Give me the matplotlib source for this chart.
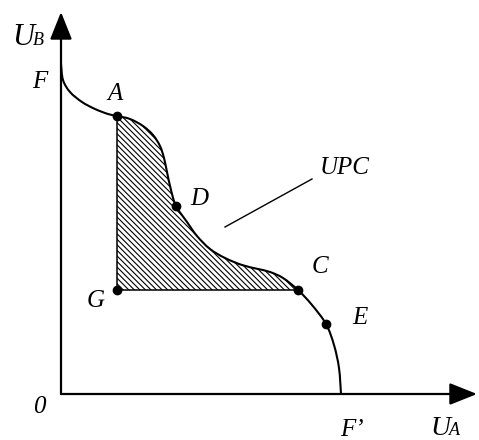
import matplotlib.pyplot as plt
from matplotlib.path import Path
from matplotlib.patches import PathPatch

# coordenadas en pixeles medidos desde el origen 0 (x a la derecha, y hacia arriba)
curve_x = [0, 2, 9, 21, 34, 47, 56,
           69, 82, 92, 99, 103, 106, 110, 115,
           126, 136, 149, 164, 181, 197, 209, 222, 237,
           251, 265, 273, 278, 280]
curve_y = [330, 314, 302, 292, 285, 280, 278,
           275, 268, 259, 248, 236, 222, 204, 188,
           172, 158, 145, 136, 129, 125, 122, 116, 104,
           89, 70, 49, 26, 0]
idx_A = 6
idx_C = 23

pt_names = ['A', 'D', 'C', 'E', 'G']
pt_x = [56, 115, 237, 265, 56]
pt_y = [278, 188, 104, 70, 104]

lab_names = ['F', 'A', 'D', 'C', 'E', 'G', '0', 'F\u2019', 'UPC']
lab_x = [-29, 46, 129, 251, 291, 26, -28, 279, 259]
lab_y = [306, 294, 189, 121, 70, 87, -19, -42, 220]

upc_line_x = [164, 251]
upc_line_y = [167, 215]


def smooth_path(xs, ys):
    # curva suave (Catmull-Rom -> Bezier cubico) que pasa por los puntos
    pts = list(zip(xs, ys))
    verts = [pts[0]]
    codes = [Path.MOVETO]
    n = len(pts)
    for i in range(n - 1):
        p0 = pts[max(i - 1, 0)]
        p1 = pts[i]
        p2 = pts[i + 1]
        p3 = pts[min(i + 2, n - 1)]
        c1 = (p1[0] + (p2[0] - p0[0]) / 6, p1[1] + (p2[1] - p0[1]) / 6)
        c2 = (p2[0] - (p3[0] - p1[0]) / 6, p2[1] - (p3[1] - p1[1]) / 6)
        verts += [c1, c2, p2]
        codes += [Path.CURVE4] * 3
    return verts, codes


plt.rcParams['font.family'] = ['Liberation Serif', 'DejaVu Serif']
plt.rcParams['hatch.linewidth'] = 0.8

fig = plt.figure(figsize=(4.79, 4.40), dpi=100)
ax = fig.add_axes([0, 0, 1, 1])
ax.set_xlim(-61, 418)
ax.set_ylim(-46, 394)
ax.axis('off')

# ejes con flechas
arrow = dict(arrowstyle='-|>,head_length=0.5,head_width=0.2', mutation_scale=34,
             lw=1.6, color='black', shrinkA=0, shrinkB=0)
ax.annotate('', xy=(0, 382), xytext=(0, 0), arrowprops=arrow)
ax.annotate('', xy=(416, 0), xytext=(0, 0), arrowprops=arrow)

# region sombreada A - C - G
hv, hc = smooth_path(curve_x[idx_A:idx_C + 1], curve_y[idx_A:idx_C + 1])
hv += [(pt_x[4], pt_y[4]), (pt_x[0], pt_y[0])]
hc += [Path.LINETO, Path.CLOSEPOLY]
ax.add_patch(PathPatch(Path(hv, hc), facecolor='none', edgecolor='black',
                       hatch='\\\\\\\\\\\\', linewidth=0))
ax.plot([pt_x[0], pt_x[4], pt_x[2]], [pt_y[0], pt_y[4], pt_y[2]], color='black', lw=1.1)

# frontera de posibilidades
cv, cc = smooth_path(curve_x, curve_y)
ax.add_patch(PathPatch(Path(cv, cc), facecolor='none', edgecolor='black', lw=1.5))
ax.plot(pt_x, pt_y, 'o', color='black', markersize=6)

ax.plot(upc_line_x, upc_line_y, color='black', lw=1.0)

for name, x, y in zip(lab_names, lab_x, lab_y):
    ax.text(x, y, name, fontsize=18, style='italic', ha='left', va='baseline')

ax.text(-49, 349, 'U', fontsize=22, style='italic', ha='left', va='baseline')
ax.text(-28, 349, 'B', fontsize=13, style='italic', ha='left', va='baseline')
ax.text(369, -41, 'U', fontsize=20, style='italic', ha='left', va='baseline')
ax.text(388, -41, 'A', fontsize=13, style='italic', ha='left', va='baseline')

plt.savefig('out.png', dpi=100)
